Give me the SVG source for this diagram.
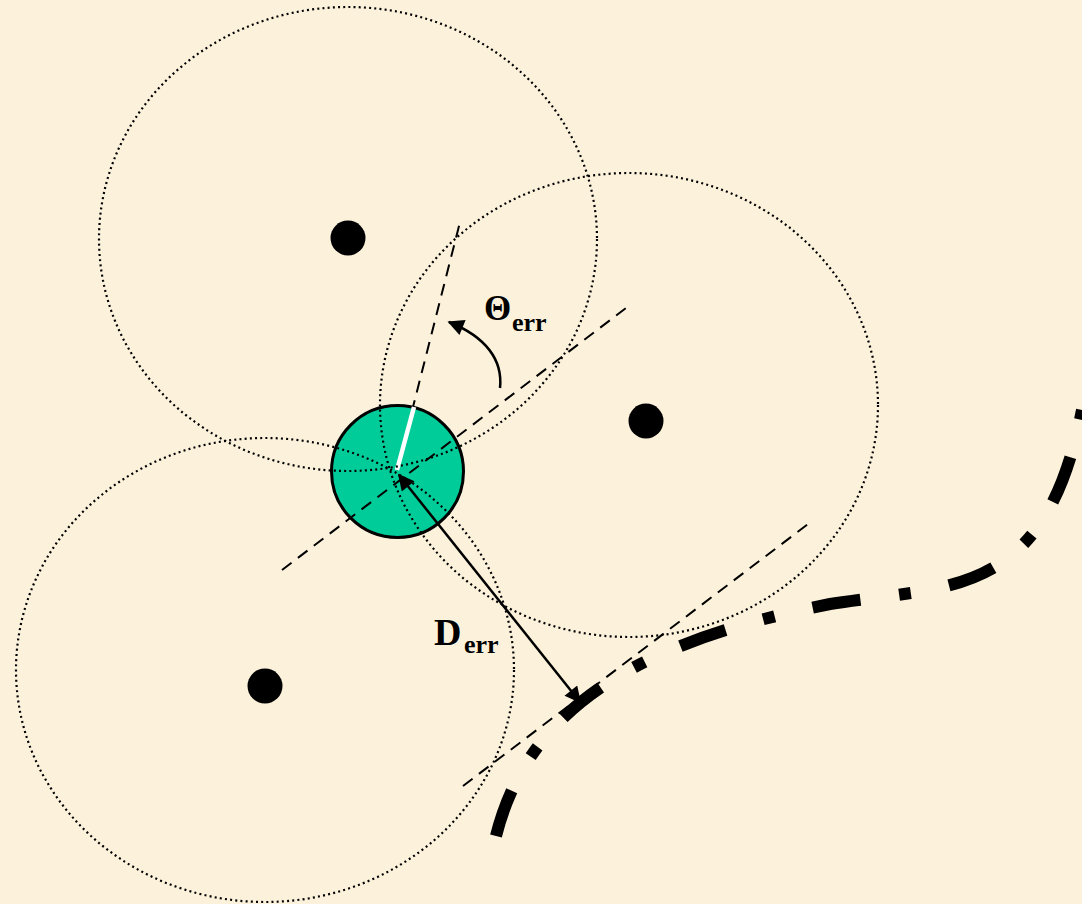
<svg xmlns="http://www.w3.org/2000/svg" width="1082" height="904" viewBox="0 0 1082 904">
<defs>
<style>
.ell{fill:none;stroke:#000;stroke-width:2.2;stroke-dasharray:2 3.2}
.dash{fill:none;stroke:#000;stroke-width:2;stroke-dasharray:12 8}
.dot{fill:#000}
.arr{fill:none;stroke:#000;stroke-width:2.5}
.lbl{font-family:"Liberation Serif","Times New Roman",serif;font-weight:bold;fill:#000}
</style>
<marker id="ah" viewBox="0 0 10 10" refX="9" refY="5" markerWidth="7.5" markerHeight="6.5" markerUnits="strokeWidth" orient="auto-start-reverse">
<path d="M0,0 L10,5 L0,10 z" fill="#000"/>
</marker>
</defs>
<rect width="1082" height="904" fill="#FCF2DC"/>
<g id="sensor">
<circle cx="397.5" cy="471.5" r="66" fill="#00CC99" stroke="#000" stroke-width="3"/>
</g>
<g id="connectors">
<line class="dash" x1="282" y1="570" x2="630" y2="305"/>
<line class="dash" x1="397" y1="470" x2="460" y2="222"/>
<line class="dash" x1="463" y1="786" x2="812" y2="521"/>
<line x1="397" y1="470" x2="414" y2="407" stroke="#fff" stroke-width="4.5"/>
<line class="arr" x1="399" y1="475" x2="580" y2="702" marker-start="url(#ah)" marker-end="url(#ah)"/>
<path class="arr" d="M500,388 C503,360 486,337 449,322" marker-end="url(#ah)"/>
<path d="M496,836 C530,700 650,640 830,604 C950,585 1045,600 1082,410" fill="none" stroke="#000" stroke-width="12" stroke-dasharray="48 39 12 39"/>
</g>
<g id="ranges">
<ellipse class="ell" cx="348" cy="239" rx="249" ry="232"/>
<ellipse class="ell" cx="629" cy="405" rx="249" ry="232"/>
<ellipse class="ell" cx="265" cy="670" rx="249" ry="232"/>
</g>
<g id="anchor1"><circle class="dot" cx="348" cy="238" r="17.5"/></g>
<g id="anchor2"><circle class="dot" cx="646" cy="421" r="17.5"/></g>
<g id="anchor3"><circle class="dot" cx="265" cy="686" r="17.5"/></g>
<g id="labels">
<text class="lbl" x="484" y="320" font-size="35">Θ<tspan x="512" y="331" font-size="26">err</tspan></text>
<text class="lbl" x="434" y="645" font-size="38">D<tspan x="464" y="653" font-size="26">err</tspan></text>
</g>
</svg>
